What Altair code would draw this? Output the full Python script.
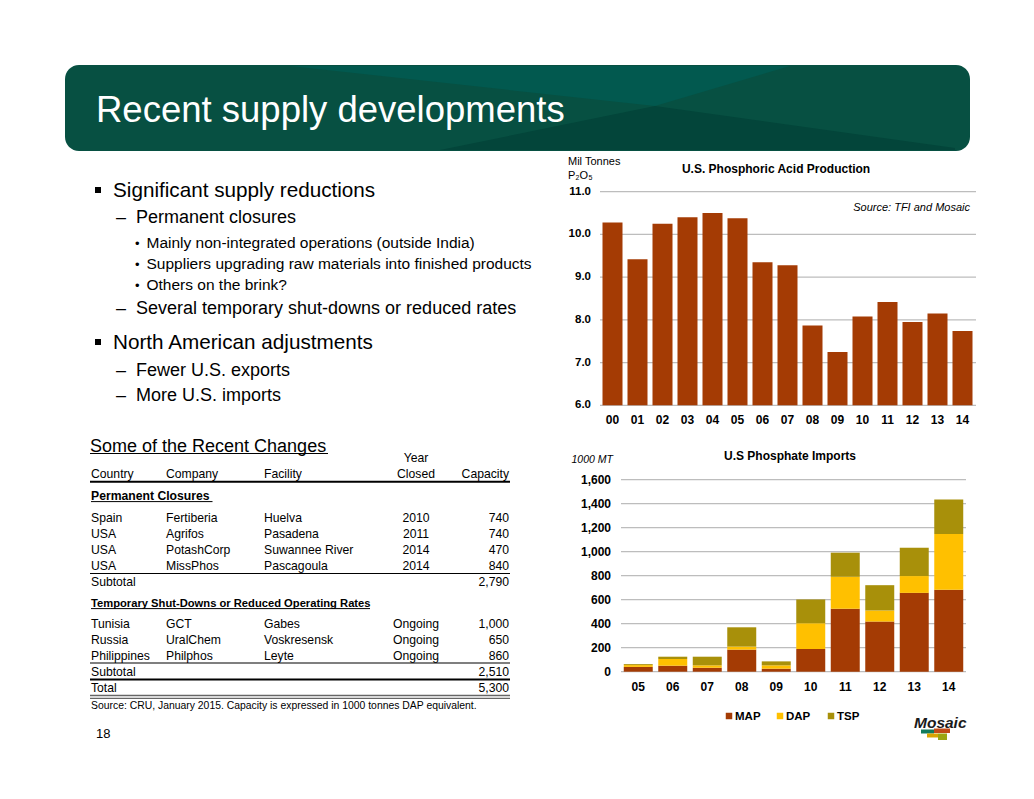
import altair as alt
import pandas as pd

# ---------------- data ----------------
years1 = ['00', '01', '02', '03', '04', '05', '06', '07', '08', '09', '10', '11', '12', '13', '14']
production = [10.28, 9.42, 10.25, 10.40, 10.50, 10.38, 9.35, 9.28, 7.87, 7.25, 8.08, 8.42, 7.95, 8.15, 7.74]
ticks1 = [6, 7, 8, 9, 10, 11]

years2 = ['05', '06', '07', '08', '09', '10', '11', '12', '13', '14']
imp_map = [40, 50, 33, 184, 25, 189, 524, 418, 657, 682]
imp_dap = [15, 56, 20, 25, 28, 215, 267, 92, 140, 466]
imp_tsp = [8, 19, 72, 161, 33, 198, 201, 211, 236, 287]
types = ['MAP', 'DAP', 'TSP']
ticks2 = [0, 200, 400, 600, 800, 1000, 1200, 1400, 1600]

perm_country = ['Spain', 'USA', 'USA', 'USA']
perm_company = ['Fertiberia', 'Agrifos', 'PotashCorp', 'MissPhos']
perm_facility = ['Huelva', 'Pasadena', 'Suwannee River', 'Pascagoula']
perm_year = ['2010', '2011', '2014', '2014']
perm_cap = ['740', '740', '470', '840']
perm_subtotal = '2,790'

temp_country = ['Tunisia', 'Russia', 'Philippines']
temp_company = ['GCT', 'UralChem', 'Philphos']
temp_facility = ['Gabes', 'Voskresensk', 'Leyte']
temp_year = ['Ongoing', 'Ongoing', 'Ongoing']
temp_cap = ['1,000', '650', '860']
temp_subtotal = '2,510'
grand_total = '5,300'

# ---------------- helpers ----------------
OX, OY = 8, 8
FONT = 'Liberation Sans, Arial, Helvetica, sans-serif'
RUST = '#A43B04'
GOLD = '#FFC000'
OLIVE = '#A8900A'
GRID = '#BDBDBD'
ONE = pd.DataFrame({'a': [0]})

layers = []


def T(s, x, y, size, weight='normal', style='normal', align='left', color='#000000', font=FONT, baseline='alphabetic'):
    c = alt.Chart(pd.DataFrame({'t': [s]})).mark_text(
        align=align, baseline=baseline, fontSize=size, fontWeight=weight,
        fontStyle=style, color=color, font=font
    ).encode(text='t:N', x=alt.value(x - OX), y=alt.value(y - OY))
    layers.append(c)


def R(x1, x2, y, color='#000000', w=1.0):
    c = alt.Chart(ONE).mark_rule(color=color, strokeWidth=w).encode(
        x=alt.value(x1 - OX), x2=alt.value(x2 - OX), y=alt.value(y - OY))
    layers.append(c)


def BOX(x1, x2, y1, y2, color, radius=0):
    c = alt.Chart(ONE).mark_rect(color=color, cornerRadius=radius).encode(
        x=alt.value(x1 - OX), x2=alt.value(x2 - OX), y=alt.value(y1 - OY), y2=alt.value(y2 - OY))
    layers.append(c)


def TRI(xs, ytop, ybot, color):
    d = pd.DataFrame({'px': [v - OX for v in xs], 'py': [v - OY for v in ytop], 'py2': [v - OY for v in ybot]})
    c = alt.Chart(d).mark_area(color=color, orient='vertical').encode(
        x=alt.X('px:Q', scale=None, axis=None),
        y=alt.Y('py:Q', scale=None, axis=None),
        y2='py2:Q')
    layers.append(c)


# ---------------- banner ----------------
BOX(65, 970, 65, 151, '#075042', radius=14)
TRI([290, 655, 790], [66, 66, 66], [66, 106, 66], '#02594F')
TRI([440, 655, 955], [150, 106, 148], [150, 150, 150], '#03453A')
T('Recent supply developments', 96, 122, 36.5, color='#FFFFFF')

# ---------------- bullets ----------------
sq = alt.Chart(pd.DataFrame({'x': [98 - OX, 98 - OX], 'y': [190 - OY, 342 - OY]})).mark_square(
    size=36, color='#000000', opacity=1).encode(
    x=alt.X('x:Q', scale=None, axis=None), y=alt.Y('y:Q', scale=None, axis=None))
layers.append(sq)
T('Significant supply reductions', 113, 197, 20.7)
T('North American adjustments', 113, 349, 20.7)
for s, yb in [('Permanent closures', 223.3), ('Several temporary shut-downs or reduced rates', 314),
              ('Fewer U.S. exports', 375.5), ('More U.S. imports', 400.5)]:
    T('\u2013', 116, yb, 18)
    T(s, 136, yb, 18)
for s, yb in [('Mainly non-integrated operations (outside India)', 248),
              ('Suppliers upgrading raw materials into finished products', 268.8),
              ('Others on the brink?', 289.6)]:
    T('\u2022', 135, yb, 13)
    T(s, 146.5, yb, 15.5)

# ---------------- table ----------------
TS = 12.2
T('Some of the Recent Changes', 90, 451.5, 18)
R(90, 328, 453.5, w=1)
T('Year', 416, 462.3, TS, align='center')
T('Country', 91, 478.3, TS)
T('Company', 166, 478.3, TS)
T('Facility', 264, 478.3, TS)
T('Closed', 416, 478.3, TS, align='center')
T('Capacity', 509, 478.3, TS, align='right')
R(90, 510, 481.8, w=2)
T('Permanent Closures', 91, 499.5, 12.2, weight='bold')
R(91, 212.5, 501.6, w=1)


def table_block(countries, companies, facilities, yrs, caps, y0):
    d = pd.DataFrame({'country': countries, 'company': companies, 'facility': facilities,
                      'year': yrs, 'cap': caps})
    d['py'] = [y0 - OY + 16 * i for i in range(len(d))]
    base = alt.Chart(d)
    yenc = alt.Y('py:Q', scale=None, axis=None)
    for col, xx, al in [('country', 91, 'left'), ('company', 166, 'left'), ('facility', 264, 'left'),
                        ('year', 416, 'center'), ('cap', 509, 'right')]:
        layers.append(base.mark_text(align=al, baseline='alphabetic', fontSize=TS, font=FONT, color='#000000')
                      .encode(text=f'{col}:N', x=alt.value(xx - OX), y=yenc))


table_block(perm_country, perm_company, perm_facility, perm_year, perm_cap, 522.3)
R(90, 510, 573.5, w=1.2)
T('Subtotal', 91, 586, TS)
T(perm_subtotal, 509, 586, TS, align='right')
T('Temporary Shut-Downs or Reduced Operating Rates', 91, 606.5, 11.2, weight='bold')
R(91, 370, 608.6, w=1)
table_block(temp_country, temp_company, temp_facility, temp_year, temp_cap, 628.3)
R(90, 510, 663, w=1.2)
T('Subtotal', 91, 676, TS)
T(temp_subtotal, 509, 676, TS, align='right')
R(90, 510, 679.5, w=2)
T('Total', 91, 692.3, TS)
T(grand_total, 509, 692.3, TS, align='right')
R(90, 510, 695.5, color='#666666', w=1.3)
R(90, 510, 698.3, color='#666666', w=1.3)
T('Source:  CRU, January 2015.  Capacity is expressed in 1000 tonnes DAP equivalent.', 91, 708.5, 10.4)

T('18', 96, 738.3, 13)

# ---------------- chart 1: phosphoric acid production ----------------
x1s = alt.Scale(domain=years1, range=[600 - OX, 975 - OX], paddingInner=0.2, paddingOuter=0.1)
y1s = alt.Scale(domain=[6, 11], range=[405.3 - OY, 191.7 - OY], zero=False, nice=False)
g1 = pd.DataFrame({'v': ticks1})
layers.append(alt.Chart(g1).mark_rule(color=GRID, strokeWidth=1.2).encode(
    y=alt.Y('v:Q', scale=y1s, axis=None), x=alt.value(600 - OX), x2=alt.value(976 - OX)))
layers.append(alt.Chart(g1).mark_text(align='right', baseline='middle', fontSize=11.5, fontWeight='bold',
                                      font=FONT, color='#000000').encode(
    y=alt.Y('v:Q', scale=y1s, axis=None), x=alt.value(591 - OX), text=alt.Text('v:Q', format='.1f')))
d1 = pd.DataFrame({'yr': years1, 'v': production})
layers.append(alt.Chart(d1).mark_bar(color=RUST).encode(
    x=alt.X('yr:N', scale=x1s, axis=None),
    y=alt.Y('v:Q', scale=y1s, axis=None), y2=alt.datum(6)))
layers.append(alt.Chart(d1).mark_text(baseline='alphabetic', fontSize=12, fontWeight='bold', font=FONT,
                                      color='#000000').encode(
    x=alt.X('yr:N', scale=x1s, axis=None), y=alt.value(423.5 - OY), text='yr:N'))
T('U.S. Phosphoric Acid Production', 776, 172.5, 12, weight='bold', align='center')
T('Mil Tonnes', 568, 165, 11)
T('P\u2082O\u2085', 568, 178.5, 11)
T('Source: TFI and Mosaic', 970, 211, 11, style='italic', align='right')

# ---------------- chart 2: phosphate imports ----------------
x2s = alt.Scale(domain=years2, range=[621 - OX, 966 - OX], paddingInner=0.16, paddingOuter=0.08)
y2s = alt.Scale(domain=[0, 1600], range=[671.7 - OY, 479.7 - OY], nice=False)
g2 = pd.DataFrame({'v': ticks2})
layers.append(alt.Chart(g2).mark_rule(color=GRID, strokeWidth=1.2).encode(
    y=alt.Y('v:Q', scale=y2s, axis=None), x=alt.value(621 - OX), x2=alt.value(966 - OX)))
layers.append(alt.Chart(g2).mark_text(align='right', baseline='middle', fontSize=12, fontWeight='bold',
                                      font=FONT, color='#000000').encode(
    y=alt.Y('v:Q', scale=y2s, axis=None), x=alt.value(611 - OX), text=alt.Text('v:Q', format=',d')))
rows = []
for i, yr in enumerate(years2):
    for k, (t, arr) in enumerate(zip(types, [imp_map, imp_dap, imp_tsp])):
        rows.append({'yr': yr, 'type': t, 'ord': k, 'v': arr[i]})
d2 = pd.DataFrame(rows)
cs = alt.Scale(domain=types, range=[RUST, GOLD, OLIVE])
layers.append(alt.Chart(d2).mark_bar().encode(
    x=alt.X('yr:N', scale=x2s, axis=None),
    y=alt.Y('v:Q', scale=y2s, axis=None, stack='zero'),
    color=alt.Color('type:N', scale=cs, legend=None),
    order=alt.Order('ord:Q', sort='ascending')))
layers.append(alt.Chart(pd.DataFrame({'yr': years2})).mark_text(
    baseline='alphabetic', fontSize=12, fontWeight='bold', font=FONT, color='#000000').encode(
    x=alt.X('yr:N', scale=x2s, axis=None), y=alt.value(691 - OY), text='yr:N'))
T('U.S Phosphate  Imports', 790, 460, 12, weight='bold', align='center')
T('1000 MT', 571.5, 462.5, 10.5, style='italic')

# legend
ls = alt.Scale(type='point', domain=types, range=[729 - OX, 831 - OX], padding=0)
dl = pd.DataFrame({'type': types})
layers.append(alt.Chart(dl).mark_square(size=42, opacity=1).encode(
    x=alt.X('type:N', scale=ls, axis=None), y=alt.value(716 - OY),
    color=alt.Color('type:N', scale=cs, legend=None)))
layers.append(alt.Chart(dl).mark_text(align='left', baseline='middle', dx=6, fontSize=11.5,
                                      fontWeight='bold', font=FONT, color='#000000').encode(
    x=alt.X('type:N', scale=ls, axis=None), y=alt.value(716.5 - OY), text='type:N'))

# ---------------- logo ----------------
T('Mosaic', 914, 728, 15.5, weight='bold', style='italic', color='#1A1A1A')
BOX(921, 934, 729.5, 733.5, '#127A5C')
BOX(934, 950, 728.5, 733, '#C24A16')
BOX(927, 938, 733.5, 737.5, '#D9A400')
BOX(938, 947, 733.5, 740, '#9CA511')

chart = alt.layer(*layers).resolve_scale(
    x='independent', y='independent', color='independent'
).properties(
    width=1018, height=783, autosize=alt.AutoSizeParams(type='none'), padding=0, background='#FFFFFF'
).configure_view(strokeWidth=0)

chart.save('out.html', embed_options={'renderer': 'svg', 'actions': False})
